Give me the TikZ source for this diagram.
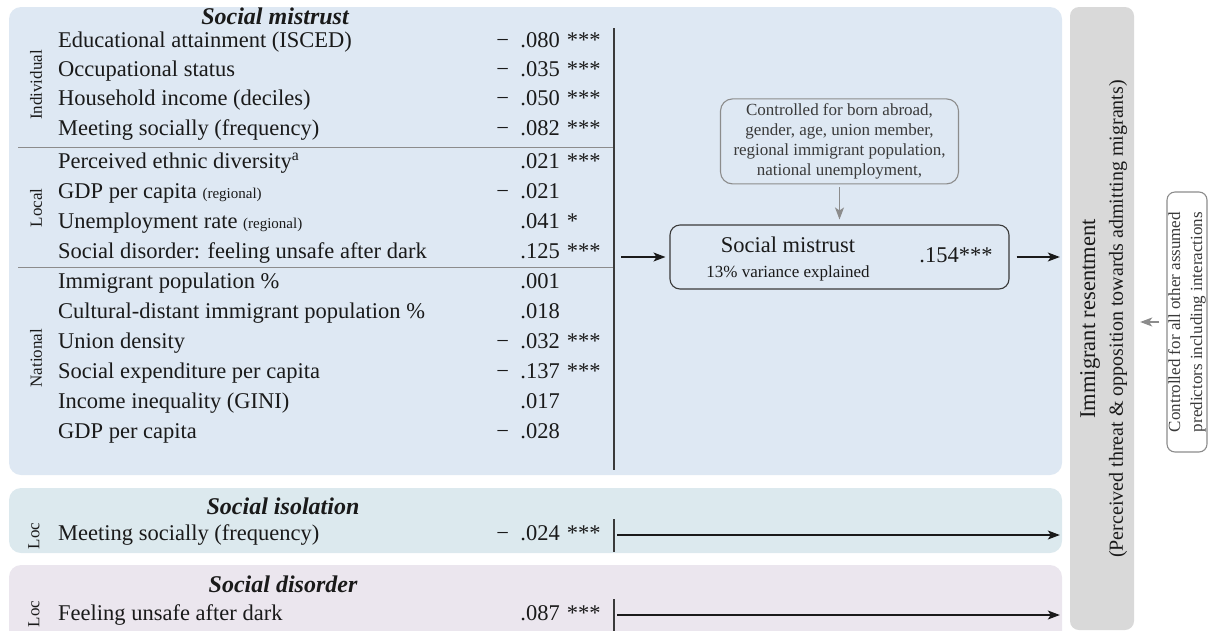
\documentclass[tikz,border=0pt]{standalone}
\usepackage{fontspec}
\setmainfont{Liberation Serif}
\usetikzlibrary{arrows.meta}
\usetikzlibrary{positioning}

\definecolor{mistrustbg}{HTML}{DEE8F3}
\definecolor{isolationbg}{HTML}{DCE9EE}
\definecolor{disorderbg}{HTML}{EBE6EE}
\definecolor{resentbg}{HTML}{D9D9D9}
\definecolor{rulegray}{HTML}{8C8C8C}
\definecolor{inkgray}{HTML}{3A3A3A}
\definecolor{ink}{HTML}{1A1A1A}

\newcommand{\sigstars}[1]{\rlap{\hspace{7pt}#1}}
\newcommand{\regsmall}[1]{{\fontsize{15}{18}\selectfont #1}}

\tikzset{
    item/.style={anchor=west, inner sep=0pt, text=ink, text height=15pt, text depth=5pt,
        font=\fontsize{22.5}{26}\selectfont},
    coef/.style={item, anchor=east},
    grp/.style={rotate=90, inner sep=0pt, text=ink, font=\fontsize{17}{20}\selectfont},
    title/.style={inner sep=0pt, text=ink, font=\fontsize{24}{28}\selectfont\bfseries\itshape},
    sep/.style={draw=rulegray, line width=1pt},
    bar/.style={draw=inkgray, line width=1.3pt},
    arr/.style={draw=ink, line width=1.1pt, -{Stealth[length=12pt,width=9pt,inset=3pt]}},
    garr/.style={draw=rulegray, line width=1.1pt, -{Stealth[length=12pt,width=9pt,inset=3pt]}},
    mainbox/.style={draw=inkgray, line width=1.1pt, rounded corners=10pt, fill=mistrustbg,
        minimum width=339pt, minimum height=64pt, inner sep=0pt},
    ctrlbox/.style={draw=rulegray, line width=1.1pt, rounded corners=12pt, fill=mistrustbg,
        minimum width=238pt, minimum height=85pt, inner sep=2pt, align=center, text=inkgray,
        font=\fontsize{17}{20}\selectfont},
    notebox/.style={draw=rulegray, line width=1.1pt, rounded corners=8pt, fill=white,
        minimum width=260pt, minimum height=40pt, inner sep=1pt, align=center, text=inkgray,
        font=\fontsize{17}{22}\selectfont, rotate=90}
}

\begin{document}
\begin{tikzpicture}[x=1pt,y=-1pt]
    \useasboundingbox (0,0) rectangle (1208,630);

    % panels
    \fill[mistrustbg, rounded corners=12pt] (9,7) rectangle (1062,475);
    \fill[isolationbg, rounded corners=12pt] (9,488) rectangle (1062,553);
    \fill[disorderbg, rounded corners=12pt] (9,565) rectangle (1062,645);
    \node[fill=resentbg, rounded corners=9pt, minimum width=64pt, minimum height=623pt,
        inner sep=0pt] (resent) at (1102,318.5) {};

    % social mistrust
    \node[title] (mistrustT) at (275,16) {Social mistrust};
    \node[grp] (indiv) at (36,85) {Individual};
    \node[grp] (local) at (36,208) {Local};
    \node[grp] (natl) at (36,358) {National};

    \node[item] (edu) at (58,42) {Educational attainment (ISCED)};
    \node[coef] (eduC) at (560,42) {−\enskip.080\sigstars{***}};
    \node[item] (occ) at (58,71) {Occupational status};
    \node[coef] (occC) at (560,71) {−\enskip.035\sigstars{***}};
    \node[item] (inc) at (58,100) {Household income (deciles)};
    \node[coef] (incC) at (560,100) {−\enskip.050\sigstars{***}};
    \node[item] (meet) at (58,130) {Meeting socially (frequency)};
    \node[coef] (meetC) at (560,130) {−\enskip.082\sigstars{***}};

    \node[item] (div) at (58,163) {Perceived ethnic diversity\textsuperscript{a}};
    \node[coef] (divC) at (560,163) {.021\sigstars{***}};
    \node[item] (gdpr) at (58,193) {GDP per capita \regsmall{(regional)}};
    \node[coef] (gdprC) at (560,193) {−\enskip.021};
    \node[item] (unem) at (58,223) {Unemployment rate \regsmall{(regional)}};
    \node[coef] (unemC) at (560,223) {.041\sigstars{*}};
    \node[item] (dark) at (58,253) {Social disorder: feeling unsafe after dark};
    \node[coef] (darkC) at (560,253) {.125\sigstars{***}};

    \node[item] (imm) at (58,283) {Immigrant population \%};
    \node[coef] (immC) at (560,283) {.001};
    \node[item] (cult) at (58,313) {Cultural-distant immigrant population \%};
    \node[coef] (cultC) at (560,313) {.018};
    \node[item] (union) at (58,343) {Union density};
    \node[coef] (unionC) at (560,343) {−\enskip.032\sigstars{***}};
    \node[item] (expd) at (58,373) {Social expenditure per capita};
    \node[coef] (expdC) at (560,373) {−\enskip.137\sigstars{***}};
    \node[item] (gini) at (58,403) {Income inequality (GINI)};
    \node[coef] (giniC) at (560,403) {.017};
    \node[item] (gdpn) at (58,433) {GDP per capita};
    \node[coef] (gdpnC) at (560,433) {−\enskip.028};

    \draw[sep] (18,147) -- (614,147);
    \draw[sep] (18,267) -- (614,267);
    \coordinate (barTop) at (614,28);
    \coordinate (barBot) at (614,470);
    \draw[bar] (barTop) -- (barBot);

    % mediator box
    \node[mainbox] (mis) at (839.5,257) {};
    \node[item, anchor=center] (misT) at (788,247) {Social mistrust};
    \node[item, anchor=center, font=\fontsize{17}{20}\selectfont, text height=12pt,
        text depth=4pt] (misV) at (788,273) {13\% variance explained};
    \node[item, anchor=center] (misB) at (956,257) {.154***};
    \node[ctrlbox, above=40pt of mis] (ctrl) {Controlled for born abroad,\\
        gender, age, union member,\\ regional immigrant population,\\ national unemployment,};

    \coordinate (barOut) at (614,257);
    \draw[arr, shorten <=7pt, shorten >=4pt] (barOut) -- (mis.west);
    \draw[arr, shorten <=7pt, shorten >=10pt] (mis.east) -- (mis.east -| resent.west);
    \draw[garr, shorten <=3pt, shorten >=5pt] (ctrl.south) -- (mis.north);

    % social isolation
    \node[title] (isoT) at (283,506) {Social isolation};
    \node[grp] (isoL) at (34,536) {Loc};
    \node[item] (isoM) at (58,535) {Meeting socially (frequency)};
    \node[coef] (isoC) at (560,535) {−\enskip.024\sigstars{***}};
    \coordinate (isoBar) at (614,535);
    \draw[bar] (614,519) -- (614,552);
    \draw[arr, shorten <=3pt, shorten >=10pt] (isoBar) -- (isoBar -| resent.west);

    % social disorder
    \node[title] (disT) at (283,584) {Social disorder};
    \node[grp] (disL) at (34,614) {Loc};
    \node[item] (disM) at (58,615) {Feeling unsafe after dark};
    \node[coef] (disC) at (560,615) {.087\sigstars{***}};
    \coordinate (disBar) at (614,615);
    \draw[bar] (614,599) -- (614,632);
    \draw[arr, shorten <=3pt, shorten >=10pt] (disBar) -- (disBar -| resent.west);

    % outcome
    \node[rotate=90, inner sep=0pt, text=ink, font=\fontsize{22.5}{26}\selectfont]
        (resentT) at (1090,319) {Immigrant resentment};
    \node[rotate=90, inner sep=0pt, text=ink, font=\fontsize{20}{24}\selectfont]
        (resentS) at (1118,319) {(Perceived threat \& opposition towards admitting migrants)};
    \node[notebox] (note) at (1187,322) {Controlled for all other assumed\\
        predictors including interactions};
    \draw[garr, shorten <=7pt, shorten >=6pt] (note.north) -- (note.north -| resent.east);
\end{tikzpicture}
\end{document}
